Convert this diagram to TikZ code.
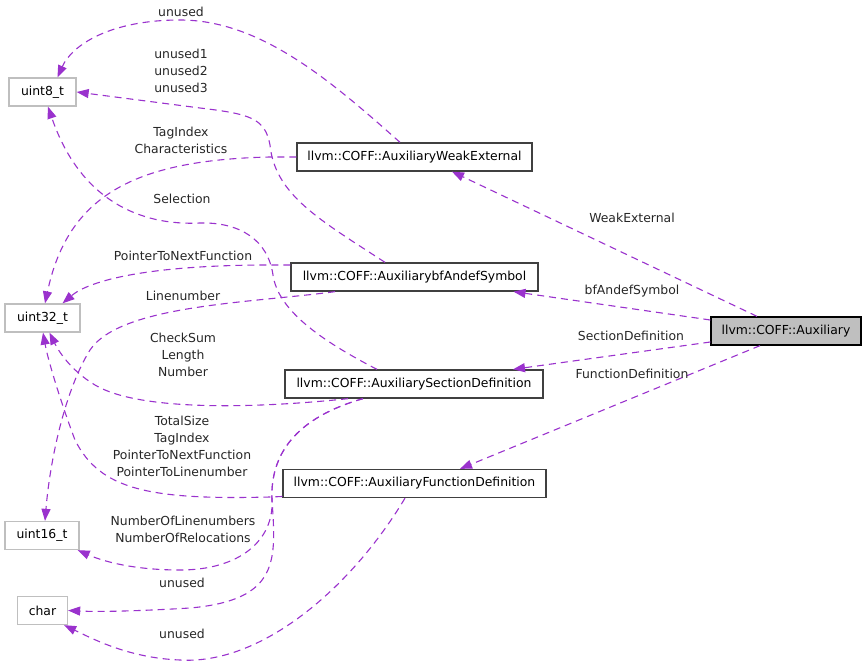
\documentclass[tikz,border=0pt]{standalone}
\usepackage{fontspec}
\setmainfont{DejaVu Sans}
\usetikzlibrary{arrows.meta,calc}
\definecolor{edgec}{HTML}{9A32CD}
\definecolor{grayb}{HTML}{BFBFBF}
\definecolor{darkb}{HTML}{404040}
\begin{document}
\begin{tikzpicture}[x=1pt,y=-1pt,
  every node/.style={font=\fontsize{12.4}{17}\selectfont},
  typebox/.style={draw=grayb,line width=1.3pt,minimum height=28pt,inner sep=0pt,fill=white},
  classbox/.style={draw=darkb,line width=1.3pt,minimum height=28pt,inner sep=0pt,fill=white},
  mainbox/.style={draw=black,line width=1.3pt,minimum height=28pt,inner sep=0pt,fill=grayb},
  lbl/.style={align=center,inner sep=0pt,text=black!85},
  rel/.style={draw=edgec,line width=1.1pt,dash pattern=on 7pt off 5pt,-{Triangle[length=12pt,width=9pt,fill=edgec]}}
]
\useasboundingbox (0,0) rectangle (867,666);
% nodes
\node[typebox,minimum width=67pt] (u8) at (42.5,92) {uint8\_t};
\node[typebox,minimum width=75pt] (u32) at (42.5,318) {uint32\_t};
\node[typebox,minimum width=74pt] (u16) at (42,535.5) {uint16\_t};
\node[typebox,minimum width=50pt] (chr) at (42.5,610.5) {char};
\node[classbox,minimum width=235pt] (weak) at (414.5,157) {llvm::COFF::AuxiliaryWeakExternal};
\node[classbox,minimum width=247pt] (bfa) at (414.5,277) {llvm::COFF::AuxiliarybfAndefSymbol};
\node[classbox,minimum width=258pt] (sec) at (414,384) {llvm::COFF::AuxiliarySectionDefinition};
\node[classbox,minimum width=263pt] (fun) at (414.5,483.5) {llvm::COFF::AuxiliaryFunctionDefinition};
\node[mainbox,minimum width=150pt] (aux) at (786,331) {llvm::COFF::Auxiliary};

% edges
\draw[rel] ($(weak.north)+(-14.5,0)$) .. controls (330,80) and (260,20) .. (180,20) .. controls (110,20) and (72,45) .. ($(u8.north)+(15,0)$);
\draw[rel] (weak.west) -- (270,157) .. controls (135,160) and (68,195) .. ($(u32.north)+(2.5,0)$);
\draw[rel] ($(bfa.north)+(-29.5,0)$) .. controls (320,220) and (275,195) .. (270,145) .. controls (265,118) and (250,114) .. (200,108) -- (u8.east);
\draw[rel] ($(sec.north)+(-37,0)$) .. controls (320,340) and (278,310) .. (273,275) .. controls (268,240) and (240,222) .. (200,223) .. controls (140,226) and (80,200) .. ($(u8.south)+(5.5,0)$);
\draw[rel] ($(bfa.west)+(0,-12)$) -- (270,265) .. controls (150,265) and (90,280) .. ($(u32.north)+(20,0)$);
\draw[rel] ($(bfa.south)+(-79.5,0)$) .. controls (250,303) and (120,305) .. (90,350) .. controls (65,390) and (50,460) .. ($(u16.north)+(3,0)$);
\draw[rel] ($(sec.south)+(-66,0)$) .. controls (260,408) and (140,412) .. (95,385) .. controls (70,370) and (58,350) .. ($(u32.south)+(7,0)$);
\draw[rel] ($(fun.west)+(0,13)$) -- (270,497) .. controls (150,500) and (100,490) .. (75,440) .. controls (60,400) and (48,360) .. ($(u32.south)+(0.5,0)$);
\draw[rel] ($(sec.south)+(-51,0)$) .. controls (295,418) and (270,455) .. (272,500) .. controls (274,540) and (240,570) .. (180,570) .. controls (130,570) and (100,560) .. ($(u16.south east)+(-2,0)$);
\draw[rel] ($(sec.south)+(-51,0)$) .. controls (295,418) and (270,455) .. (272,500) .. controls (276,560) and (280,600) .. (190,608) .. controls (140,611) and (100,612) .. (chr.east);
\draw[rel] ($(fun.south)+(-9.5,0)$) .. controls (350,590) and (260,665) .. (180,660) .. controls (130,658) and (95,640) .. ($(chr.south east)+(-4,0)$);
\draw[rel] ($(aux.north)+(-29,0)$) -- ($(weak.south)+(37.5,0)$);
\draw[rel] ($(aux.west)+(0,-11)$) -- ($(bfa.south)+(99,0)$);
\draw[rel] ($(aux.west)+(0,11)$) -- ($(sec.north)+(99,0)$);
\draw[rel] ($(aux.south)+(-26,0)$) -- ($(fun.north)+(45.5,0)$);

% labels
\node[lbl] (l1) at (181,12) {unused};
\node[lbl] (l2) at (181,71) {unused1\\unused2\\unused3};
\node[lbl] (l3) at (181,140) {TagIndex\\Characteristics};
\node[lbl] (l4) at (182,199) {Selection};
\node[lbl] (l5) at (183,256) {PointerToNextFunction};
\node[lbl] (l6) at (183,296) {Linenumber};
\node[lbl] (l7) at (183,355) {CheckSum\\Length\\Number};
\node[lbl] (l8) at (182,446) {TotalSize\\TagIndex\\PointerToNextFunction\\PointerToLinenumber};
\node[lbl] (l9) at (183,529) {NumberOfLinenumbers\\NumberOfRelocations};
\node[lbl] (l10) at (182,583) {unused};
\node[lbl] (l11) at (182,634) {unused};
\node[lbl] (l12) at (632,218) {WeakExternal};
\node[lbl] (l13) at (632,291) {bfAndefSymbol};
\node[lbl] (l14) at (631,336) {SectionDefinition};
\node[lbl] (l15) at (632,374) {FunctionDefinition};
\end{tikzpicture}
\end{document}
